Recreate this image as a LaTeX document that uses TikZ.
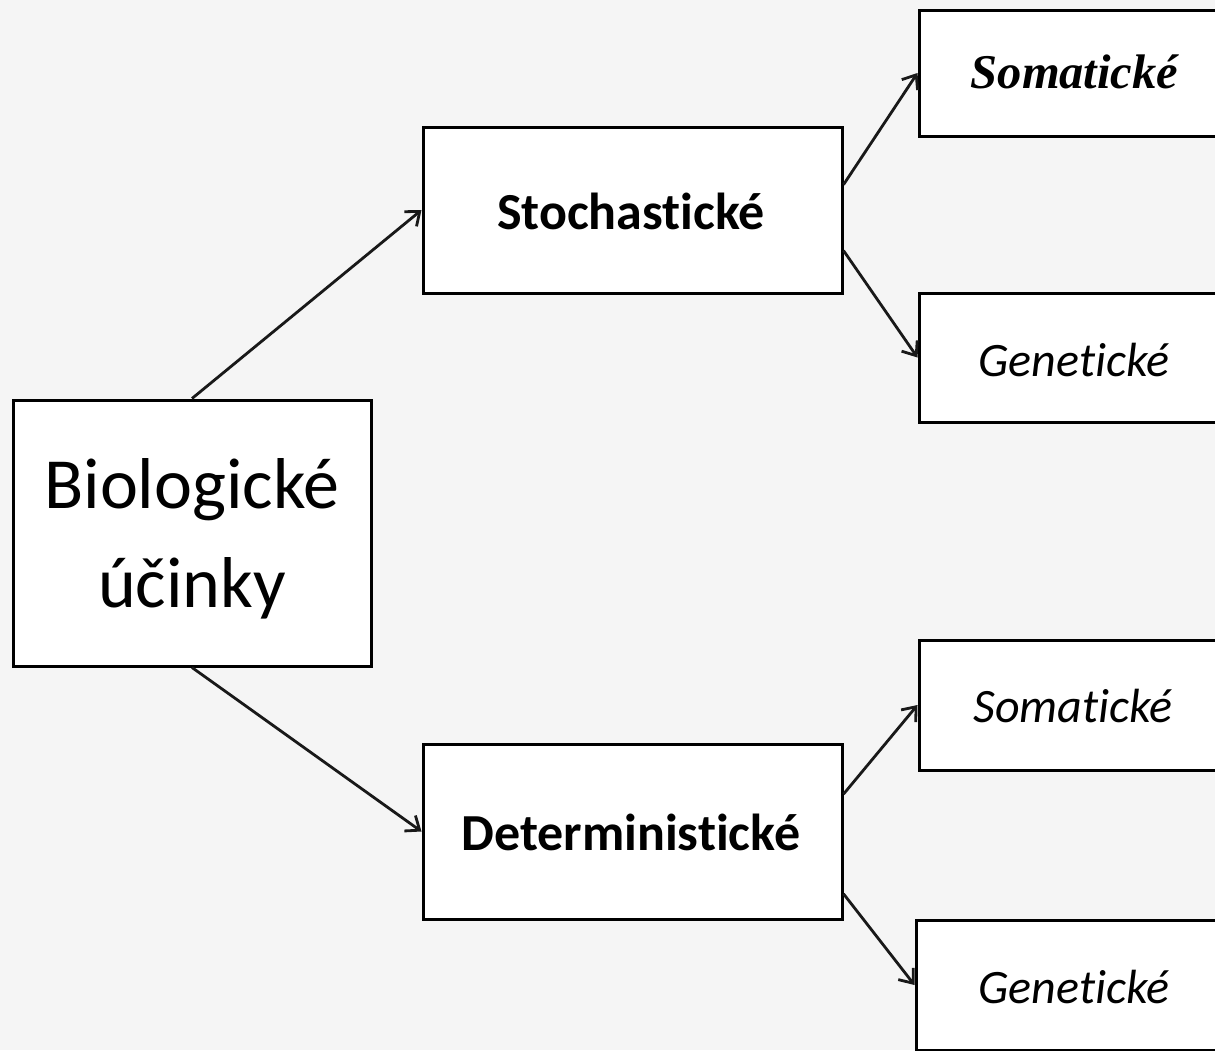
\documentclass[tikz,border=0pt]{standalone}
\usepackage{fontspec}
\setmainfont{Carlito}[Ligatures=NoCommon]
\newfontfamily\serifbi{Liberation Serif}
\usetikzlibrary{arrows.meta,calc}
\tikzset{
  box/.style={draw=black, line width=3pt, fill=white, rectangle, inner sep=0pt},
  lbl/.style={anchor=base, inner sep=0pt},
  conn/.style={draw=black!90, line width=2.8pt, -{Straight Barb[length=12pt,width=19pt,line width=2.8pt]}},
}
\begin{document}
\begin{tikzpicture}[x=1pt,y=-1pt]
\useasboundingbox (0,0) rectangle (1215,1050);
\clip (0,0) rectangle (1215,1050);
\fill[black!4] (0,0) rectangle (1215,1050);
% boxes
\node[box, minimum width=358pt, minimum height=266pt] (bio) at (192,533) {};
\node[box, minimum width=419pt, minimum height=166pt] (sto) at (632.5,210) {};
\node[box, minimum width=419pt, minimum height=175pt] (det) at (632.5,831.5) {};
\node[box, minimum width=311pt, minimum height=126pt] (som1) at (1074.5,73) {};
\node[box, minimum width=311pt, minimum height=129pt] (gen1) at (1074.5,357.5) {};
\node[box, minimum width=311pt, minimum height=130pt] (som2) at (1074.5,705) {};
\node[box, minimum width=317pt, minimum height=130pt] (gen2) at (1074.5,985) {};
% labels
\node[lbl, font=\fontsize{72}{86}\selectfont] (t1) at (192,508) {Biologické};
\node[lbl, font=\fontsize{72}{86}\selectfont] (t2) at (192,607) {účinky};
\node[lbl, font=\fontsize{52}{62}\selectfont\bfseries] (t3) at (631,229) {Stochastické};
\node[lbl, font=\fontsize{52}{62}\selectfont\bfseries] (t4) at (631,850) {Deterministické};
\node[lbl, font=\fontsize{48.5}{58}\selectfont\serifbi\bfseries\itshape] (t5) at (1074.5,88) {Somatické};
\node[lbl, font=\fontsize{48}{58}\selectfont\itshape] (t6) at (1074,376) {Genetické};
\node[lbl, font=\fontsize{48}{58}\selectfont\itshape] (t7) at (1073,722) {Somatické};
\node[lbl, font=\fontsize{48}{58}\selectfont\itshape] (t8) at (1074,1003) {Genetické};
% connectors
\draw[conn] (bio.north) -- (sto.west);
\draw[conn] (bio.south) -- (det.west);
\draw[conn] ($(sto.north east)!0.35!(sto.south east)$) -- (som1.west);
\draw[conn] ($(sto.north east)!0.74!(sto.south east)$) -- (gen1.west);
\draw[conn] ($(det.north east)!0.29!(det.south east)$) -- (som2.west);
\draw[conn] ($(det.north east)!0.85!(det.south east)$) -- (gen2.west);
\end{tikzpicture}
\end{document}
